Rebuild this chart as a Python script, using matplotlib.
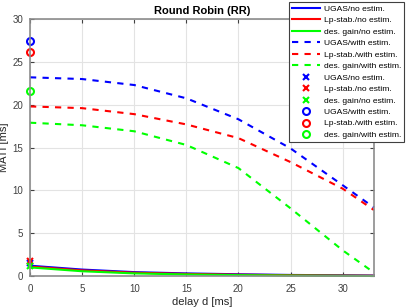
import numpy as np
import matplotlib
matplotlib.use("Agg")
import matplotlib.pyplot as plt

plt.rcParams['font.family'] = ['Liberation Sans', 'DejaVu Sans']

# data
d_curve = [0, 5, 10, 15, 20, 25, 30, 33]
ugas_with = [23.2, 23.0, 22.3, 20.75, 18.3, 14.9, 10.6, 8.0]
lp_with = [19.8, 19.6, 18.9, 17.7, 16.1, 13.3, 10.2, 7.7]
des_with = [17.9, 17.6, 16.9, 15.3, 12.6, 7.9, 3.0, 0.4]

d_solid = [0, 5, 10, 15, 20, 25, 30, 33]
ugas_no = [1.2, 0.75, 0.45, 0.3, 0.2, 0.12, 0.08, 0.05]
lp_no = [1.1, 0.65, 0.38, 0.24, 0.15, 0.09, 0.05, 0.03]
des_no = [1.0, 0.55, 0.3, 0.18, 0.1, 0.05, 0.02, 0.0]

d0 = [0]
ugas_no_pt = [1.5]
lp_no_pt = [1.75]
des_no_pt = [1.2]
ugas_with_pt = [27.4]
lp_with_pt = [26.1]
des_with_pt = [21.6]

labels = ["UGAS/no estim.", "Lp-stab./no estim.", "des. gain/no estim.",
          "UGAS/with estim.", "Lp-stab./with estim.", "des. gain/with estim.",
          "UGAS/no estim.", "Lp-stab./no estim.", "des. gain/no estim.",
          "UGAS/with estim.", "Lp-stab./with estim.", "des. gain/with estim."]

B, R, G = '#0000ff', '#ff0000', '#00ff00'

fig = plt.figure(figsize=(4.07, 3.08), dpi=100)
ax = fig.add_axes([0.0737, 0.104, 0.845, 0.834])

lw = 1.5
h = []
h += ax.plot(d_solid, ugas_no, color=B, lw=lw, label=labels[0])
h += ax.plot(d_solid, lp_no, color=R, lw=lw, label=labels[1])
h += ax.plot(d_solid, des_no, color=G, lw=lw, label=labels[2])
h += ax.plot(d_curve, ugas_with, color=B, lw=lw, ls=(0, (3, 3)), label=labels[3])
h += ax.plot(d_curve, lp_with, color=R, lw=lw, ls=(0, (3, 3)), label=labels[4])
h += ax.plot(d_curve, des_with, color=G, lw=lw, ls=(0, (3, 3)), label=labels[5])
h += ax.plot(d0, ugas_no_pt, 'x', color=B, ms=4, mew=1.5, label=labels[6])
h += ax.plot(d0, lp_no_pt, 'x', color=R, ms=4, mew=1.5, label=labels[7])
h += ax.plot(d0, des_no_pt, 'x', color=G, ms=4, mew=1.5, label=labels[8])
h += ax.plot(d0, ugas_with_pt, 'o', color=B, mfc='none', ms=5, mew=1.5, label=labels[9])
h += ax.plot(d0, lp_with_pt, 'o', color=R, mfc='none', ms=5, mew=1.5, label=labels[10])
h += ax.plot(d0, des_with_pt, 'o', color=G, mfc='none', ms=5, mew=1.5, label=labels[11])

for l in h:
    l.set_clip_on(False)

ax.set_xlim(0, 33)
ax.set_ylim(0, 30)
ax.set_xticks([0, 5, 10, 15, 20, 25, 30])
ax.set_yticks([0, 5, 10, 15, 20, 25, 30])
ax.grid(True, color='#e3e3e3', lw=0.8)
ax.set_axisbelow(True)
ax.tick_params(labelsize=7, colors='#404040', direction='in', length=3, right=True, top=True)
ax.tick_params(axis='x', pad=6)
ax.tick_params(axis='y', pad=5)
for s in ax.spines.values():
    s.set_color('#8c8c8c')
    s.set_linewidth(1.2)
ax.set_xlabel('delay d [ms]', fontsize=8, color='#262626', labelpad=2)
ax.set_ylabel('MATI [ms]', fontsize=8, color='#262626')
ax.yaxis.set_label_coords(-0.062, 0.5)
ax.set_title('Round Robin (RR)', fontsize=8, fontweight='bold', pad=4)

leg = fig.legend(handles=h, loc='upper right', bbox_to_anchor=(0.997, 1.0),
                 fontsize=6.1, labelspacing=0.42, handlelength=3.3,
                 handletextpad=0.4, borderpad=0.35, borderaxespad=0.2,
                 fancybox=False, framealpha=1, edgecolor='#404040')
leg.get_frame().set_linewidth(0.8)

fig.savefig('out.png', dpi=100)
